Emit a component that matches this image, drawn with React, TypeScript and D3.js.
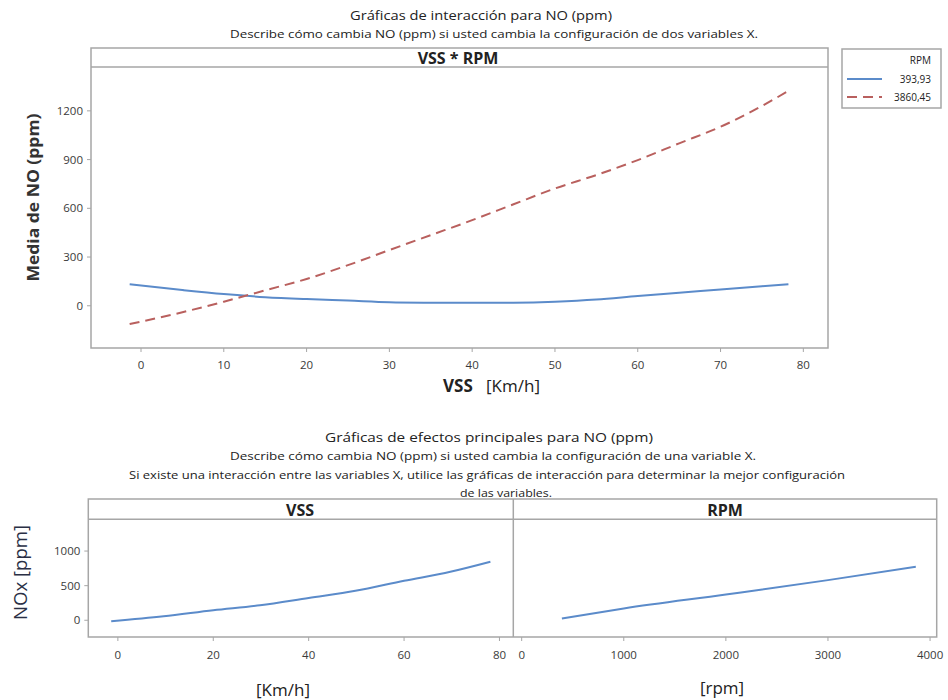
import React from "react";
import * as d3 from "d3";

// ---------- data ----------
const vssGrid = [-1.37, 5, 10, 15, 20, 25, 30, 35, 40, 45, 50, 55, 60, 65, 70, 75, 78.2];
const noLowRpm = [133, 97, 72, 53, 41, 32, 22, 19, 18, 19, 25, 38, 60, 80, 100, 120, 133];
const noHighRpm = [-113, -40, 25, 95, 165, 250, 343, 435, 527, 625, 722, 805, 897, 1000, 1102, 1230, 1323];
const rpmLevels = ["393,93", "3860,45"];

const vssMain = [-1.4, 9.6, 20, 29.8, 40, 49.8, 60, 69.7, 78.1];
const noVssMain = [-14, 58, 145, 217, 323, 425, 570, 700, 845];
const rpmMain = [393.93, 1000, 2000, 3000, 3860.45];
const noRpmMain = [25, 170, 372, 580, 773];

const topYTicks = [0, 300, 600, 900, 1200];
const topXTicks = [0, 10, 20, 30, 40, 50, 60, 70, 80];
const botYTicks = [0, 500, 1000];
const vssTicks = [0, 20, 40, 60, 80];
const rpmTicks = [0, 1000, 2000, 3000, 4000];

const BLUE = "#5b8bca";
const RED = "#b9605e";
const GRID = "#a6a6a6";
const TXT = "#3a3a3a";
const FONT = "'Open Sans', 'Noto Sans', sans-serif";

export default function App() {
  // top panel geometry
  const T = { l: 91, r: 828, t: 48, s: 67, b: 348 };
  const xT = d3.scaleLinear().domain([-6.04, 82.98]).range([T.l, T.r]);
  const yT = d3.scaleLinear().domain([-260, 1470]).range([T.b, T.s]);
  const lineT = d3
    .line<[number, number]>()
    .x((d) => xT(d[0]))
    .y((d) => yT(d[1]))
    .curve(d3.curveMonotoneX);
  const lowPts = vssGrid.map((v, i) => [v, noLowRpm[i]] as [number, number]);
  const highPts = vssGrid.map((v, i) => [v, noHighRpm[i]] as [number, number]);

  // bottom panels
  const B = { l: 88.3, m: 513.3, r: 936.7, t: 499, s: 519.3, b: 637 };
  const xL = d3.scaleLinear().domain([-6.2, 82.9]).range([B.l, B.m]);
  const xR = d3.scaleLinear().domain([-82, 4065]).range([B.m, B.r]);
  const yB = d3.scaleLinear().domain([-242, 1459]).range([B.b, B.s]);
  const lineL = d3
    .line<[number, number]>()
    .x((d) => xL(d[0]))
    .y((d) => yB(d[1]))
    .curve(d3.curveMonotoneX);
  const lineR = d3
    .line<[number, number]>()
    .x((d) => xR(d[0]))
    .y((d) => yB(d[1]))
    .curve(d3.curveMonotoneX);
  const vssPts = vssMain.map((v, i) => [v, noVssMain[i]] as [number, number]);
  const rpmPts = rpmMain.map((v, i) => [v, noRpmMain[i]] as [number, number]);

  const fit = { lengthAdjust: "spacingAndGlyphs" as const };

  return (
    <svg
      width={948}
      height={700}
      style={{ position: "absolute", left: 0, top: 0, background: "#fff" }}
      fontFamily={FONT}
    >
      <rect x={0} y={0} width={948} height={700} fill="#fff" />
      {/* ---- top titles ---- */}
      <text x={481} y={20} textAnchor="middle" fontSize={13.5} fill="#222" textLength={262} {...fit}>
        Gráficas de interacción para NO (ppm)
      </text>
      <text x={494} y={38} textAnchor="middle" fontSize={11.5} fill="#222" textLength={528} {...fit}>
        Describe cómo cambia NO (ppm) si usted cambia la configuración de dos variables X.
      </text>

      {/* ---- top panel ---- */}
      <rect x={T.l} y={T.t} width={T.r - T.l} height={T.b - T.t} fill="#fff" stroke={GRID} strokeWidth={1.5} />
      <line x1={T.l} x2={T.r} y1={T.s} y2={T.s} stroke={GRID} strokeWidth={1.5} />
      <text x={458} y={63.5} textAnchor="middle" fontSize={16} fontWeight="bold" fill="#222">
        VSS * RPM
      </text>
      {topYTicks.map((t) => (
        <g key={"ty" + t}>
          <line x1={T.l - 4} x2={T.l} y1={yT(t)} y2={yT(t)} stroke={GRID} strokeWidth={1} />
          <text x={T.l - 8} y={yT(t) + 4} textAnchor="end" fontSize={11.5} fill={TXT}>
            {t}
          </text>
        </g>
      ))}
      {topXTicks.map((t) => (
        <g key={"tx" + t}>
          <line x1={xT(t)} x2={xT(t)} y1={T.b} y2={T.b + 4} stroke={GRID} strokeWidth={1} />
          <text x={xT(t)} y={T.b + 21} textAnchor="middle" fontSize={11.5} fill={TXT}>
            {t}
          </text>
        </g>
      ))}
      <path d={lineT(lowPts) || ""} fill="none" stroke={BLUE} strokeWidth={2} />
      <path d={lineT(highPts) || ""} fill="none" stroke={RED} strokeWidth={2} strokeDasharray="10 6" />
      <text
        transform="translate(39,197.5) rotate(-90)"
        textAnchor="middle"
        fontSize={16.5}
        fontWeight="bold"
        fill="#333"
        textLength={168}
        {...fit}
      >
        Media de NO (ppm)
      </text>
      <text x={443} y={392} fontSize={17} fill="#222">
        <tspan fontWeight="bold">VSS</tspan>
        <tspan>{"\u00a0\u00a0\u00a0[Km/h]"}</tspan>
      </text>

      {/* legend */}
      <rect x={842} y={49} width={99} height={59} fill="#fff" stroke={GRID} strokeWidth={1.5} />
      <text x={931} y={64} textAnchor="end" fontSize={10} fill="#222">
        RPM
      </text>
      <line x1={847} x2={882} y1={79} y2={79} stroke={BLUE} strokeWidth={2} />
      <text x={931} y={83} textAnchor="end" fontSize={10} fill="#222">
        {rpmLevels[0]}
      </text>
      <line x1={847} x2={882} y1={97} y2={97} stroke={RED} strokeWidth={2} strokeDasharray="10 6" />
      <text x={931} y={101} textAnchor="end" fontSize={10} fill="#222">
        {rpmLevels[1]}
      </text>

      {/* ---- bottom titles ---- */}
      <text x={489} y={442} textAnchor="middle" fontSize={13.5} fill="#222" textLength={328} {...fit}>
        Gráficas de efectos principales para NO (ppm)
      </text>
      <text x={493} y={460} textAnchor="middle" fontSize={11.5} fill="#222" textLength={526} {...fit}>
        Describe cómo cambia NO (ppm) si usted cambia la configuración de una variable X.
      </text>
      <text x={487} y={479} textAnchor="middle" fontSize={11.5} fill="#222" textLength={716} {...fit}>
        Si existe una interacción entre las variables X, utilice las gráficas de interacción para determinar la mejor configuración
      </text>
      <text x={506} y={497} textAnchor="middle" fontSize={11.5} fill="#222" textLength={92} {...fit}>
        de las variables.
      </text>

      {/* ---- bottom panels ---- */}
      <rect x={B.l} y={B.t} width={B.r - B.l} height={B.b - B.t} fill="#fff" stroke={GRID} strokeWidth={1.5} />
      <line x1={B.l} x2={B.r} y1={B.s} y2={B.s} stroke={GRID} strokeWidth={1.5} />
      <line x1={B.m} x2={B.m} y1={B.t} y2={B.b} stroke={GRID} strokeWidth={1.5} />
      <text x={300} y={515.5} textAnchor="middle" fontSize={16} fontWeight="bold" fill="#222">
        VSS
      </text>
      <text x={725} y={515.5} textAnchor="middle" fontSize={16} fontWeight="bold" fill="#222">
        RPM
      </text>
      {botYTicks.map((t) => (
        <g key={"by" + t}>
          <line x1={B.l - 4} x2={B.l} y1={yB(t)} y2={yB(t)} stroke={GRID} strokeWidth={1} />
          <text x={B.l - 8} y={yB(t) + 4} textAnchor="end" fontSize={11.5} fill={TXT}>
            {t}
          </text>
        </g>
      ))}
      {vssTicks.map((t) => (
        <g key={"vx" + t}>
          <line x1={xL(t)} x2={xL(t)} y1={B.b} y2={B.b + 4} stroke={GRID} strokeWidth={1} />
          <text x={xL(t)} y={B.b + 22} textAnchor="middle" fontSize={11.5} fill={TXT}>
            {t}
          </text>
        </g>
      ))}
      {rpmTicks.map((t) => (
        <g key={"rx" + t}>
          <line x1={xR(t)} x2={xR(t)} y1={B.b} y2={B.b + 4} stroke={GRID} strokeWidth={1} />
          <text x={xR(t)} y={B.b + 22} textAnchor="middle" fontSize={11.5} fill={TXT}>
            {t}
          </text>
        </g>
      ))}
      <path d={lineL(vssPts) || ""} fill="none" stroke={BLUE} strokeWidth={2} />
      <path d={lineR(rpmPts) || ""} fill="none" stroke={BLUE} strokeWidth={2} />
      <text
        transform="translate(27,572.5) rotate(-90)"
        textAnchor="middle"
        fontSize={18}
        fill="#2a2f45"
        textLength={95}
        {...fit}
      >
        NOx [ppm]
      </text>
      <text x={283} y={696} textAnchor="middle" fontSize={17} fill="#222">
        [Km/h]
      </text>
      <text x={722} y={694} textAnchor="middle" fontSize={17} fill="#222">
        [rpm]
      </text>
    </svg>
  );
}
